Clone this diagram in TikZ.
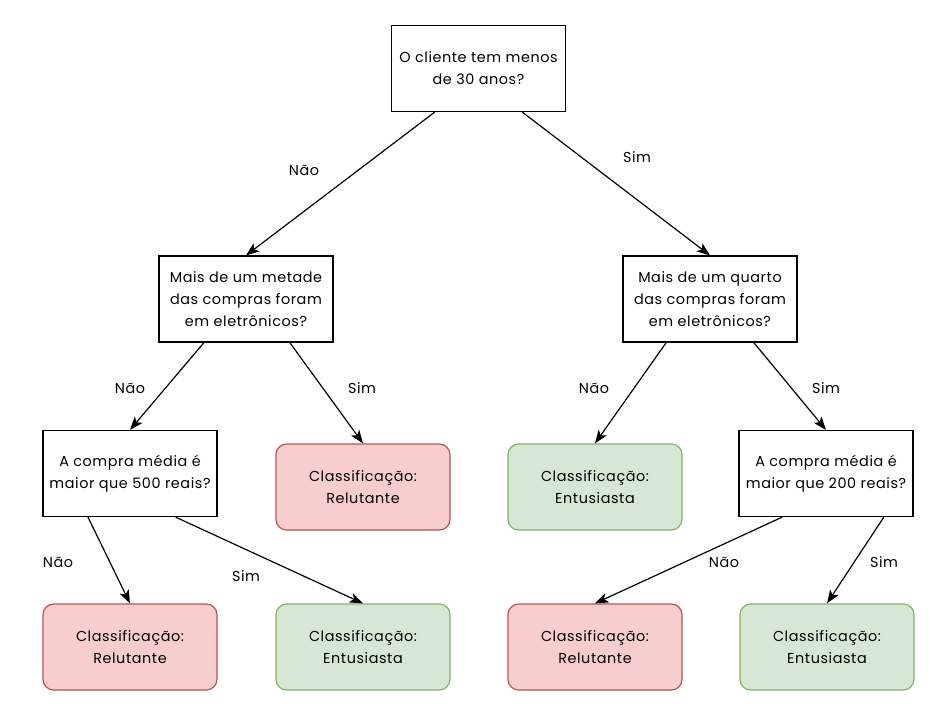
\documentclass[tikz,border=0pt]{standalone}
\usepackage{fontspec}
\setmainfont[LetterSpace=4]{Poppins}
\usetikzlibrary{arrows.meta,calc}
\definecolor{redfill}{HTML}{F8CECC}
\definecolor{redline}{HTML}{B85450}
\definecolor{greenfill}{HTML}{D5E8D4}
\definecolor{greenline}{HTML}{82B366}
\tikzset{
  base/.style={minimum width=174*0.75pt, minimum height=86*0.75pt, align=center,
    inner sep=0pt, font=\fontsize{10.8}{16.5}\selectfont, line width=0.9pt},
  question/.style={base, draw=black, fill=white},
  relutante/.style={base, draw=redline, fill=redfill, rounded corners=8pt},
  entusiasta/.style={base, draw=greenline, fill=greenfill, rounded corners=8pt},
  edge/.style={draw, line width=0.9pt, -{Stealth[length=10pt,width=7.5pt,inset=2.5pt]}},
  lbl/.style={font=\fontsize{10.8}{12}\selectfont, inner sep=1pt}
}
\begin{document}
\begin{tikzpicture}[x=0.75pt,y=-0.75pt]
\useasboundingbox (0,0) rectangle (935,708);

% decision nodes
\node[question] (root) at (478.5,68.5) {O cliente tem menos\\de 30 anos?};
\node[question] (qL) at (246,299) {Mais de um metade\\das compras foram\\em eletrônicos?};
\node[question] (qR) at (710,299) {Mais de um quarto\\das compras foram\\em eletrônicos?};
\node[question] (qLL) at (130,473.5) {A compra média é\\maior que 500 reais?};
\node[question] (qRR) at (826,473.5) {A compra média é\\maior que 200 reais?};

% leaves
\node[relutante] (lLR) at (363,487) {Classificação:\\Relutante};
\node[entusiasta] (lRL) at (595,487) {Classificação:\\Entusiasta};
\node[relutante] (b1) at (130,647) {Classificação:\\Relutante};
\node[entusiasta] (b2) at (363,647) {Classificação:\\Entusiasta};
\node[relutante] (b3) at (595,647) {Classificação:\\Relutante};
\node[entusiasta] (b4) at (827,647) {Classificação:\\Entusiasta};

% connectors
\draw[edge] ($(root.south west)!0.25!(root.south east)$) -- (qL.north);
\draw[edge] ($(root.south west)!0.75!(root.south east)$) -- (qR.north);
\draw[edge] ($(qL.south west)!0.26!(qL.south east)$) -- (qLL.north);
\draw[edge] ($(qL.south west)!0.75!(qL.south east)$) -- (lLR.north);
\draw[edge] ($(qR.south west)!0.25!(qR.south east)$) -- (lRL.north);
\draw[edge] ($(qR.south west)!0.75!(qR.south east)$) -- (qRR.north);
\draw[edge] ($(qLL.south west)!0.26!(qLL.south east)$) -- (b1.north);
\draw[edge] ($(qLL.south west)!0.76!(qLL.south east)$) -- (b2.north);
\draw[edge] ($(qRR.south west)!0.25!(qRR.south east)$) -- (b3.north);
\draw[edge] ($(qRR.south west)!0.83!(qRR.south east)$) -- (b4.north);

% branch labels
\node[lbl] (t1) at (304,170) {Não};
\node[lbl] (t2) at (637,157) {Sim};
\node[lbl] (t3) at (130,388) {Não};
\node[lbl] (t4) at (362,388) {Sim};
\node[lbl] (t5) at (594,388) {Não};
\node[lbl] (t6) at (826,388) {Sim};
\node[lbl] (t7) at (58,562) {Não};
\node[lbl] (t8) at (246,576) {Sim};
\node[lbl] (t9) at (724,562) {Não};
\node[lbl] (t10) at (884,562) {Sim};
\end{tikzpicture}
\end{document}
